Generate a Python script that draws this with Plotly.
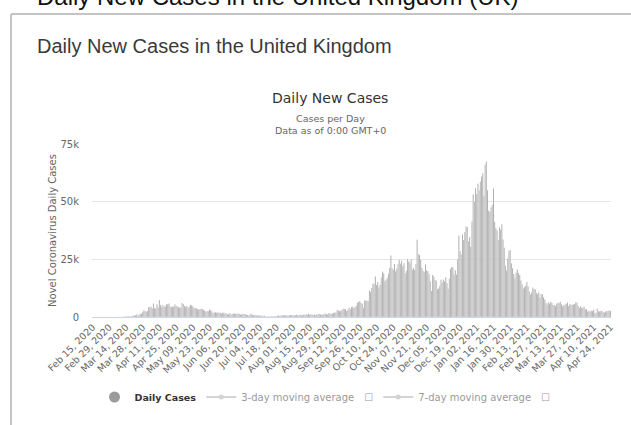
import pandas as pd
import plotly.graph_objects as go

# Daily new cases (United Kingdom), by month
cases_2020_02 = [0, 0, 0, 0, 0, 0, 0, 0, 0, 4, 0, 0, 2, 3, 3]
cases_2020_03 = [7, 12, 4, 11, 34, 29, 48, 43, 67, 48, 52, 83, 134, 117, 208, 342,
                 251, 152, 407, 676, 643, 714, 1035, 665, 967, 1427, 1452, 2129,
                 2885, 2546, 2433]
cases_2020_04 = [2619, 4324, 4244, 4450, 3735, 5903, 3802, 3634, 5491, 4344, 7400,
                 5233, 4342, 5252, 4603, 4617, 5599, 5525, 5850, 4676, 4301, 4451,
                 4583, 5386, 4913, 4463, 4309, 3996, 4076, 6032]
cases_2020_05 = [5600, 4806, 4339, 4806, 3985, 4406, 5300, 5114, 4649, 3896, 3923,
                 3877, 3403, 3242, 3446, 3560, 3451, 3142, 2684, 2412, 2472, 2615,
                 3287, 2959, 2405, 1625, 2004, 2013, 1887, 2095, 1608]
cases_2020_06 = [1936, 1570, 1871, 1805, 1650, 1557, 1326, 1205, 1741, 1003, 1266,
                 1541, 1425, 1514, 1056, 1514, 1279, 1115, 1218, 1346, 1295, 1221,
                 958, 874, 653, 1118, 1380, 890, 901, 815]
cases_2020_07 = [689, 829, 576, 544, 624, 516, 352, 581, 160, 140, 210, 160, 230,
                 190, 260, 180, 320, 250, 580, 725, 445, 560, 769, 768, 767, 747,
                 685, 581, 763, 846, 880]
cases_2020_08 = [846, 744, 743, 938, 670, 892, 950, 871, 758, 1062, 816, 1148, 1009,
                 1441, 1012, 1077, 1040, 713, 1089, 812, 1182, 1033, 1288, 1041, 853,
                 1184, 1048, 1522, 1276, 1108, 1715]
cases_2020_09 = [1406, 1295, 1508, 1735, 1940, 1813, 2988, 2948, 2460, 2659, 2919,
                 3539, 3497, 3330, 2621, 3105, 3991, 3395, 4322, 4422, 3899, 4368,
                 4926, 6178, 6634, 6874, 6042, 5693, 4044, 7143]
cases_2020_10 = [7108, 6914, 6968, 11500, 10800, 12594, 14542, 14162, 17540, 13864,
                 15166, 12872, 13972, 17234, 19724, 18980, 15650, 16171, 16982, 18804,
                 21331, 26688, 21242, 20530, 23012, 19790, 20890, 22885, 24701, 23065,
                 24405]
cases_2020_11 = [21915, 23254, 18950, 20018, 25177, 24141, 23287, 24957, 20572, 21350,
                 20412, 22950, 33470, 27301, 26860, 24962, 21363, 20051, 19609, 22915,
                 20252, 19875, 18662, 15450, 11299, 18213, 17555, 16022, 15871, 12155]
cases_2020_12 = [12330, 13430, 16170, 14879, 16298, 15539, 17272, 14718, 12282, 16578,
                 20964, 21672, 21502, 18447, 20263, 18450, 25161, 35383, 28507, 27052,
                 35928, 33364, 36804, 39237, 39036, 32725, 34693, 30501, 41385, 53135,
                 50023]
cases_2021_01 = [55892, 53285, 57725, 54990, 58784, 60916, 62322, 52618, 66000, 67300,
                 54940, 46169, 45533, 47525, 48682, 55761, 41346, 38598, 37535, 33355,
                 38905, 37892, 40261, 33552, 30004, 22195, 20089, 25308, 28680, 29079,
                 23275]
cases_2021_02 = [21088, 18607, 16840, 19202, 20634, 19114, 18262, 15845, 14104, 12364,
                 13013, 13494, 15144, 13308, 10972, 9765, 10625, 12718, 12057, 12027,
                 10406, 9834, 10641, 8489, 9938, 9985, 8523, 7434]
cases_2021_03 = [6035, 5455, 6391, 5766, 6573, 6040, 5177, 5177, 4712, 5766, 6137,
                 5926, 6609, 5534, 4618, 5089, 5294, 5758, 6303, 4802, 5587, 5312,
                 5342, 5379, 5605, 6397, 6187, 4715, 3862, 4654, 4040]
cases_2021_04 = [4052, 4479, 3402, 3423, 2297, 2762, 2379, 2763, 2589, 3150, 1730,
                 1882, 3568, 2472, 2491, 2672, 2596, 2206, 1882, 2524, 2396, 2729,
                 2729, 2678]

first_date = "2020-02-15"
tick_every = 14
y_tick_values = [0, 25000, 50000, 75000]
y_tick_labels = ["0", "25k", "50k", "75k"]

daily_cases = (cases_2020_02 + cases_2020_03 + cases_2020_04 + cases_2020_05 +
               cases_2020_06 + cases_2020_07 + cases_2020_08 + cases_2020_09 +
               cases_2020_10 + cases_2020_11 + cases_2020_12 + cases_2021_01 +
               cases_2021_02 + cases_2021_03 + cases_2021_04)

dates = pd.date_range(first_date, periods=len(daily_cases), freq="D")
date_labels = [d.strftime("%b %d, %Y") for d in dates]
tick_labels = date_labels[::tick_every]

series = pd.Series(daily_cases, dtype=float)
ma3 = series.rolling(3).mean()
ma7 = series.rolling(7).mean()

# plot-area geometry (px) used to convert decorations into paper coordinates
W, H = 631, 425
L, R, T, B = 92, 20, 144, 108
pw, ph = W - L - R, H - T - B


def px(x):
    return (x - L) / pw


def py(y):
    return (H - B - y) / ph


fig = go.Figure()
fig.add_bar(x=date_labels, y=daily_cases, name="Daily Cases", legendgroup="daily",
            showlegend=False,
            marker=dict(color="#8e8e8e", line=dict(width=0.3, color="#ffffff")))
fig.add_scatter(x=[None], y=[None], mode="markers",
                name="<b><span style='font-size:9.5px'>Daily Cases</span></b>",
                legendgroup="daily",
                marker=dict(color="#9b9b9b", size=11, symbol="circle"))
fig.add_scatter(x=date_labels, y=ma3, mode="lines+markers", visible="legendonly",
                name="3-day moving average\u2003\u2610",
                line=dict(color="#aaaaaa", width=2), marker=dict(size=5, color="#aaaaaa"))
fig.add_scatter(x=date_labels, y=ma7, mode="lines+markers", visible="legendonly",
                name="7-day moving average\u2003\u2610",
                line=dict(color="#aaaaaa", width=2), marker=dict(size=5, color="#aaaaaa"))

fig.update_layout(
    width=W, height=H,
    margin=dict(l=L, r=R, t=T, b=B, autoexpand=False),
    paper_bgcolor="white", plot_bgcolor="white",
    bargap=0.2,
    font=dict(family="DejaVu Sans", color="#666666"),
    showlegend=True,
    legend=dict(orientation="h", x=px(325), xanchor="center", y=py(397),
                yanchor="middle", font=dict(size=10, color="#333333"),
                bgcolor="rgba(0,0,0,0)", itemwidth=30, tracegroupgap=0),
    xaxis=dict(type="category", tickmode="array", tickvals=tick_labels,
               ticktext=tick_labels, tickangle=-45,
               tickfont=dict(size=9.5, color="#666666"),
               showline=True, linecolor="#ccd6eb", linewidth=1, showgrid=False,
               ticks="", range=[-0.5, len(daily_cases) - 0.5], automargin=False),
    yaxis=dict(range=[0, 75000], tickmode="array", tickvals=y_tick_values,
               ticktext=y_tick_labels, gridcolor="#e6e6e6", gridwidth=1,
               zeroline=False, showline=False,
               tickfont=dict(size=10, color="#666666"), ticklabelstandoff=12,
               title=dict(text="Novel Coronavirus Daily Cases",
                          font=dict(size=10, color="#666666"), standoff=1),
               automargin=False),
)

annotations = [
    dict(text="Daily New Cases", x=px(330), y=py(98), font=dict(size=14, color="#333333")),
    dict(text="Cases per Day", x=px(330), y=py(118), font=dict(size=9.5, color="#666666")),
    dict(text="Data as of 0:00 GMT+0", x=px(330), y=py(130),
         font=dict(size=9.5, color="#666666")),
    dict(text="Daily New Cases in the United Kingdom", x=px(35), y=py(46), xanchor="left",
         font=dict(size=20, color="#3a3a3a", family="Liberation Sans")),
    dict(text="Daily New Cases in the United Kingdom (UK)", x=px(35), y=py(12),
         xanchor="left", yanchor="bottom",
         font=dict(size=24, color="#111111", family="Liberation Sans")),
]
for a in annotations:
    a.setdefault("xanchor", "center")
    a.setdefault("yanchor", "middle")
    a.update(xref="paper", yref="paper", showarrow=False)
fig.update_layout(annotations=annotations)

# card frame
fig.add_shape(type="line", xref="paper", yref="paper", x0=px(11), x1=px(11),
              y0=py(14), y1=py(425), line=dict(color="#c4c4c4", width=2))
fig.add_shape(type="line", xref="paper", yref="paper", x0=px(11), x1=px(631),
              y0=py(14), y1=py(14), line=dict(color="#c4c4c4", width=2))

fig.write_html("out.html", config={"displayModeBar": False},
               post_script="document.body.style.margin='0';document.body.style.overflow='hidden';")
